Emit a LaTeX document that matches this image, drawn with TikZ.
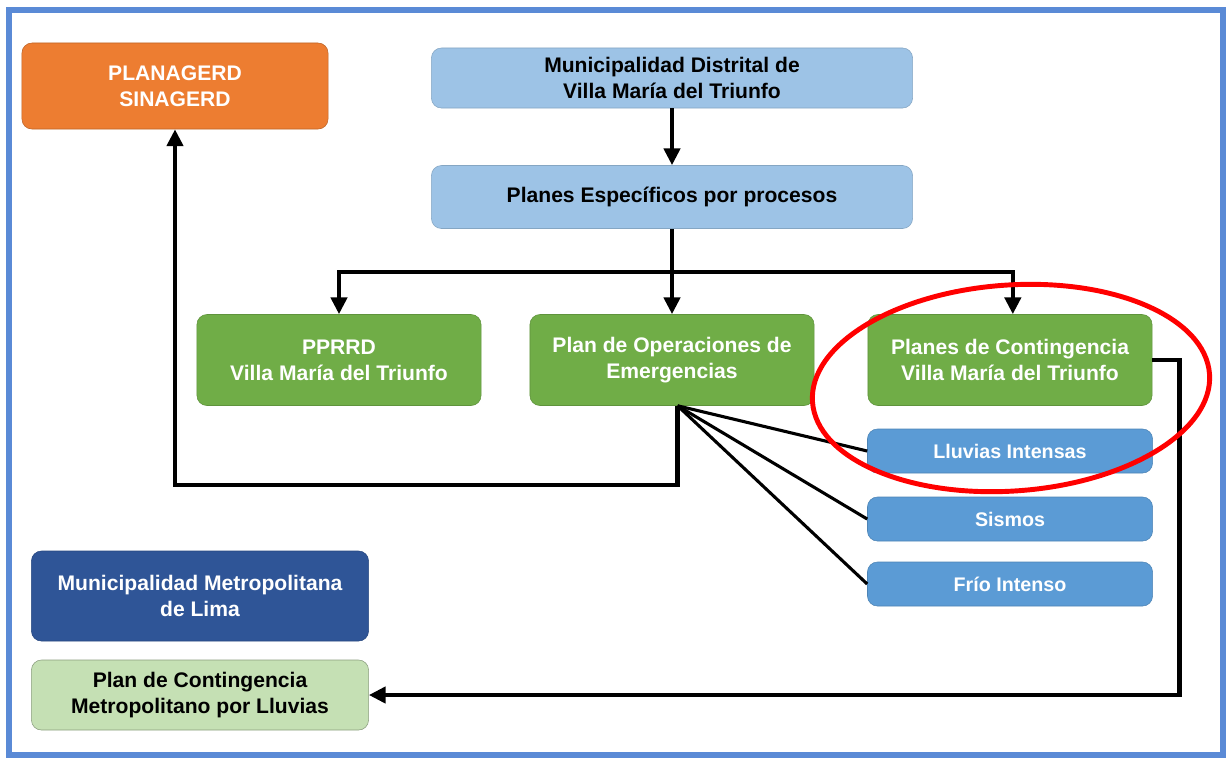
\documentclass[tikz,border=0pt]{standalone}
\usepackage{fontspec}
\setmainfont{Liberation Sans}
\usetikzlibrary{arrows.meta,shapes,positioning}

\definecolor{naranja}{HTML}{ED7D31}
\definecolor{celeste}{HTML}{9DC3E6}
\definecolor{verde}{HTML}{70AD47}
\definecolor{azul}{HTML}{5B9BD5}
\definecolor{azuloscuro}{HTML}{2F5597}
\definecolor{verdeclaro}{HTML}{C5E0B4}
\definecolor{marco}{HTML}{5A8AD6}

\begin{document}
\begin{tikzpicture}[x=0.025cm,y=-0.025cm,>={Triangle[length=0.42cm,width=0.4cm]},font=\fontsize{15}{18.5}\selectfont\bfseries]
        \tikzstyle{box}=[rectangle,rounded corners=0.25cm,align=center,inner sep=0pt,thin]
        \tikzstyle{orangebox}=[box,fill=naranja,draw=naranja!80!black,text=white,minimum width=7.65cm,minimum height=2.15cm]
        \tikzstyle{topbox}=[box,fill=celeste,draw=celeste!85!black,text=black,minimum width=12.025cm]
        \tikzstyle{greenbox}=[box,fill=verde,draw=verde!85!black,text=white,minimum width=7.1cm,minimum height=2.275cm]
        \tikzstyle{hazard}=[box,fill=azul,draw=azul!85!black,text=white,minimum width=7.125cm,minimum height=1.1cm,font=\fontsize{14}{17}\selectfont\bfseries]
        \tikzstyle{link}=[line width=3.2pt]
        \tikzstyle{fan}=[line width=2.2pt]

        \useasboundingbox (0,0) rectangle (1227,759);
        \draw[marco,line width=4.3pt] (9,10) rectangle (1223,755); %frame

        \node [orangebox] (planagerd) at (175,86) {PLANAGERD\\SINAGERD};
        \node [topbox,minimum height=1.5cm] (mdvmt) at (672,78) {Municipalidad Distrital de\\Villa María del Triunfo};
        \node [topbox,minimum height=1.575cm] (pep) at (672,197) {Planes Específicos por procesos};

        \node [greenbox] (pprrd) at (339,360) {PPRRD\\Villa María del Triunfo};
        \node [greenbox] (poe) at (672,360) {Plan de Operaciones de\\Emergencias};
        \node [greenbox] (pcvmt) at (1010,360) {Planes de Contingencia\\Villa María del Triunfo};

        \node [hazard] (lluvias) at (1010,451) {Lluvias Intensas};
        \node [hazard] (sismos) at (1010,519) {Sismos};
        \node [hazard] (frio) at (1010,584) {Frío Intenso};

        \node [box,fill=azuloscuro,draw=azuloscuro!85!black,text=white,minimum width=8.425cm,minimum height=2.25cm] (mml) at (200,596) {Municipalidad Metropolitana\\de Lima};
        \node [box,fill=verdeclaro,draw=verdeclaro!70!black,text=black,minimum width=8.425cm,minimum height=1.75cm] (pcml) at (200,695) {Plan de Contingencia\\Metropolitano por Lluvias};

        \coordinate (split) at (672,272);
        \draw[link,->] (mdvmt) -- (pep);
        \draw[link] (pep) -- (split);
        \draw[link,->] (split) -| (pprrd);
        \draw[link,->] (split) -- (poe);
        \draw[link,->] (split) -| ([xshift=2]pcvmt.north);
        \draw[link,->] ([xshift=4]poe.south) -- ++(0,79) -| (planagerd);
        \draw[fan] ([xshift=4]poe.south) -- (lluvias.west);
        \draw[fan] ([xshift=4]poe.south) -- (sismos.west);
        \draw[fan] ([xshift=4]poe.south) -- (frio.west);
        \draw[link,->] (pcvmt.east) -- ++(27,0) |- (pcml);

        \draw[red,line width=3.5pt,rotate around={4:(1011,388)}] (1011,388) ellipse [x radius=199,y radius=103];
    \end{tikzpicture}
\end{document}
